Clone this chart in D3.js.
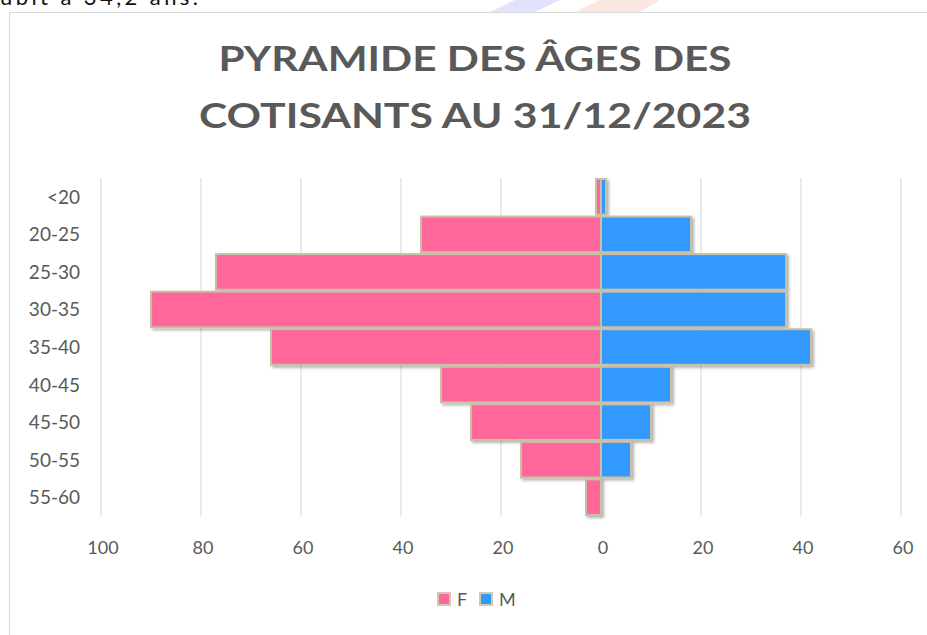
<!DOCTYPE html>
<meta charset="utf-8">
<script src="https://d3js.org/d3.v7.min.js"></script>
<style>
  body { margin: 0; background: #fff; font-family: Lato, "Open Sans", sans-serif; }
  svg { display: block; }
</style>
<div id="chart"></div>
<script>

// data
var ages = ["<20", "20-25", "25-30", "30-35", "35-40", "40-45", "45-50", "50-55", "55-60"];
var femmes = [1, 36, 77, 90, 66, 32, 26, 16, 3];
var hommes = [1, 18, 37, 37, 42, 14, 10, 6, 0];
var series = ["F", "M"];
var colors = ["#ff6699", "#3399ff"];
var xTicks = [-100, -80, -60, -40, -20, 0, 20, 40, 60];
var titleLines = ["PYRAMIDE DES ÂGES DES", "COTISANTS AU 31/12/2023"];

var W = 927, H = 635;

var svg = d3.select("#chart").append("svg")
  .attr("width", W)
  .attr("height", H);

var defs = svg.append("defs");
var f = defs.append("filter").attr("id", "shadow")
  .attr("x", "-20%").attr("y", "-20%").attr("width", "140%").attr("height", "140%");
f.append("feDropShadow")
  .attr("dx", 2).attr("dy", 2).attr("stdDeviation", 1.8)
  .attr("flood-color", "#000").attr("flood-opacity", 0.3);

// faint logo watermark peeking at the top
var wm = svg.append("g").attr("opacity", 0.25);
wm.append("path").attr("d", "M490,12 L515,0 L560,0 L535,12 Z").attr("fill", "#8f8ff0");
wm.append("path").attr("d", "M575,12 L600,0 L660,0 L640,12 Z").attr("fill", "#f5a08a");

// cut-off line of text above the chart (cut in the original too)
svg.append("text")
  .attr("x", 0).attr("y", 5)
  .attr("textLength", 198)
  .style("font-size", "22px")
  .style("fill", "#111")
  .text("ubit à 34,2 ans.");

// chart frame
svg.append("rect")
  .attr("x", 9.5).attr("y", 12.5)
  .attr("width", 940).attr("height", 660)
  .attr("fill", "#fff")
  .attr("stroke", "#d9d9d9");

// title
svg.selectAll(".title")
  .data(titleLines)
  .enter().append("text")
    .attr("class", "title")
    .attr("x", 475)
    .attr("y", function(d, i){ return 71 + i * 57; })
    .attr("text-anchor", "middle")
    .attr("textLength", function(d, i){ return i === 0 ? 513 : 552; })
    .attr("lengthAdjust", "spacingAndGlyphs")
    .style("font-size", "34px")
    .style("font-weight", "bold")
    .style("fill", "#595959")
    .text(function(d){ return d; });

var x = d3.scaleLinear()
  .domain([-100, 60])
  .range([101, 901]);

var y = d3.scaleBand()
  .domain(ages)
  .range([178, 516])
  .padding(0);

// grid
svg.append("g")
  .selectAll("line")
  .data(xTicks)
  .enter().append("line")
    .attr("x1", function(d){ return x(d); })
    .attr("x2", function(d){ return x(d); })
    .attr("y1", 178)
    .attr("y2", 516)
    .attr("stroke", "#e3e3e3")
    .attr("stroke-width", 1.5);

// x labels (absolute values)
svg.append("g")
  .selectAll("text")
  .data(xTicks)
  .enter().append("text")
    .attr("x", function(d){ return x(d) + 2; })
    .attr("y", 554)
    .attr("text-anchor", "middle")
    .style("font-size", "18px")
    .style("fill", "#595959")
    .text(function(d){ return Math.abs(d); });

// y labels
svg.append("g")
  .selectAll("text")
  .data(ages)
  .enter().append("text")
    .attr("x", 80)
    .attr("y", function(d){ return y(d) + y.bandwidth() / 2 + 7; })
    .attr("text-anchor", "end")
    .style("font-size", "19px")
    .style("fill", "#595959")
    .text(function(d){ return d; });

var rows = ages.map(function(a, i){ return {age: a, F: femmes[i], M: hommes[i]}; });

var bars = svg.append("g").attr("filter", "url(#shadow)");

bars.selectAll(".f")
  .data(rows.filter(function(d){ return d.F > 0; }))
  .enter().append("rect")
    .attr("x", function(d){ return x(-d.F); })
    .attr("y", function(d){ return y(d.age) + 1; })
    .attr("width", function(d){ return x(0) - x(-d.F); })
    .attr("height", y.bandwidth() - 2)
    .attr("fill", colors[0])
    .attr("stroke", "#c9bea6")
    .attr("stroke-width", 2);

bars.selectAll(".m")
  .data(rows.filter(function(d){ return d.M > 0; }))
  .enter().append("rect")
    .attr("x", x(0))
    .attr("y", function(d){ return y(d.age) + 1; })
    .attr("width", function(d){ return x(d.M) - x(0); })
    .attr("height", y.bandwidth() - 2)
    .attr("fill", colors[1])
    .attr("stroke", "#c9bea6")
    .attr("stroke-width", 2);

// legend
var leg = svg.append("g")
  .selectAll("g")
  .data(series)
  .enter().append("g")
    .attr("transform", function(d, i){ return "translate(" + (438 + i * 42) + ",593)"; });

leg.append("rect")
  .attr("width", 12).attr("height", 12)
  .attr("fill", function(d, i){ return colors[i]; })
  .attr("stroke", "#d2c8b4")
  .attr("stroke-width", 2);

leg.append("text")
  .attr("x", 19).attr("y", 13)
  .style("font-size", "18px")
  .style("fill", "#595959")
  .text(function(d){ return d; });

</script>
